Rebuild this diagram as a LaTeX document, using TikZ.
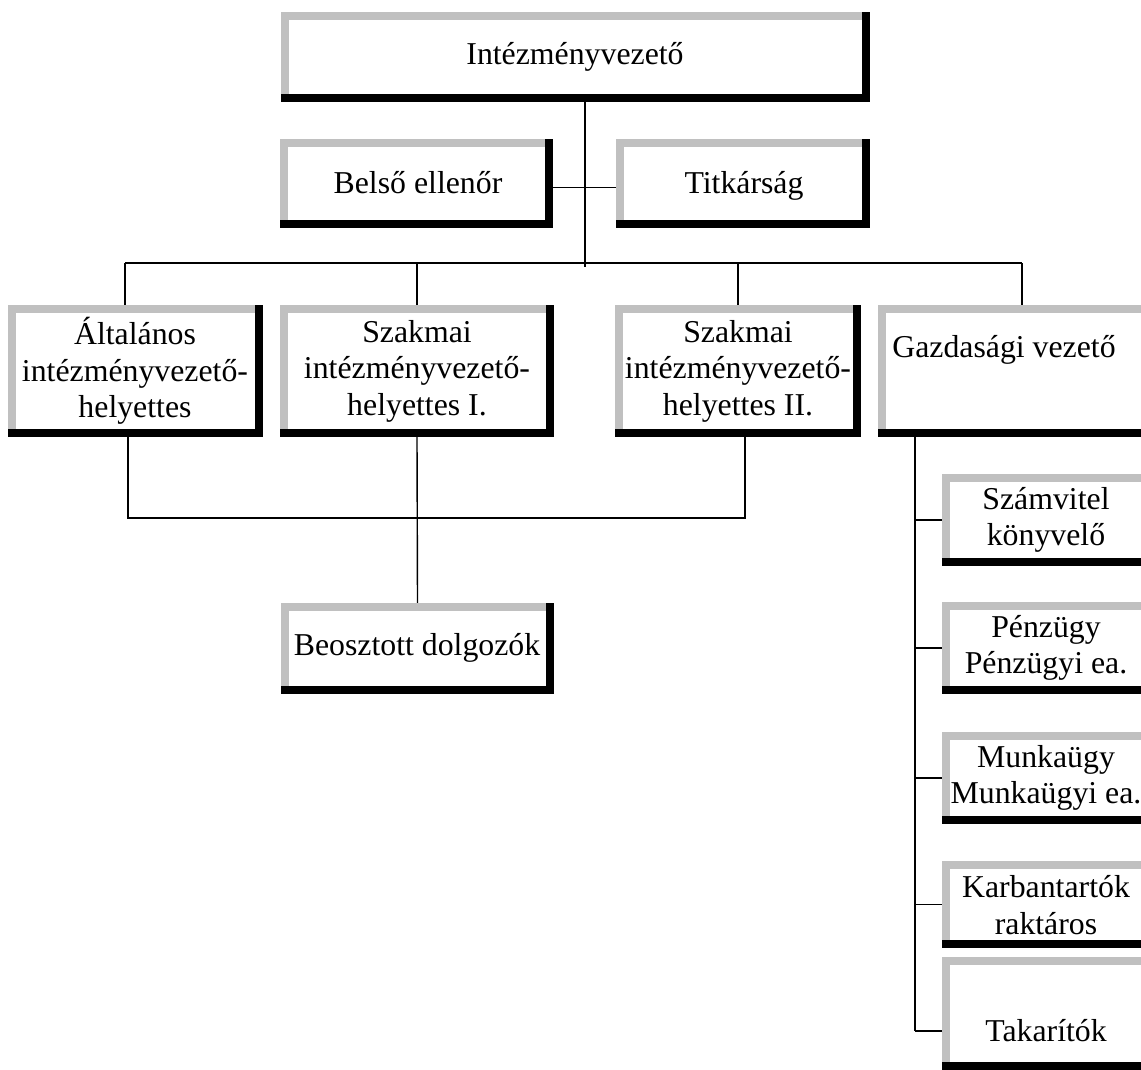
\documentclass[tikz,border=0pt]{standalone}
\usepackage{fontspec}
\setmainfont{Liberation Serif}
\definecolor{silverb}{RGB}{192,192,192}
\tikzset{
  conn/.style={draw=black, line width=1.4pt},
  boxshape/.style={rectangle, inner sep=0pt, draw=none},
  boxtext/.style={inner sep=0pt, align=center, font=\fontsize{31.8}{36.5}\selectfont},
}
\newcommand{\orgbox}[8]{%
  \fill[silverb] (#2,#3) rectangle (#4,{#3+8});
  \fill[silverb] (#2,#3) rectangle ({#2+8},#5);
  \fill[black] (#2,{#5-8}) rectangle (#4,#5);
  \fill[black] ({#4-8},#3) rectangle (#4,#5);
  \node[boxshape, minimum width={(#4-#2)*1pt}, minimum height={(#5-#3)*1pt}] (#1) at ({(#2+#4)/2},{(#3+#5)/2}) {};
  \node[boxtext] (#1-t) at (#6,#7) {#8};
}
\begin{document}
\begin{tikzpicture}[x=1pt,y=-1pt]
\useasboundingbox (0,0) rectangle (1141,1070);
\clip (0,0) rectangle (1141,1070);
% boxes
\orgbox{top}{281}{12}{870}{102}{575}{57}{Intézményvezető}
\orgbox{belso}{280}{139}{553}{228}{418}{183}{Belső ellenőr}
\orgbox{titk}{616}{139}{870}{228}{744}{186}{Titkárság}
\orgbox{b1}{8}{305}{263}{437}{135}{371}{Általános\\intézményvezető-\\helyettes}
\orgbox{b2}{280}{305}{554}{437}{417}{371}{Szakmai\\intézményvezető-\\helyettes I.}
\orgbox{b3}{615}{305}{861}{437}{738}{371}{Szakmai\\intézményvezető-\\helyettes II.}
\orgbox{b4}{878}{305}{1170}{437}{1004}{350}{Gazdasági vezető}
\orgbox{beo}{281}{603}{554}{694}{417}{648}{Beosztott dolgozók}
\orgbox{sz}{942}{474}{1170}{566}{1046}{520}{Számvitel\\könyvelő}
\orgbox{pe}{942}{602}{1170}{694}{1046}{648}{Pénzügy\\Pénzügyi ea.}
\orgbox{mu}{942}{732}{1170}{824}{1046}{778}{Munkaügy\\Munkaügyi ea.}
\orgbox{ka}{942}{861}{1170}{948}{1046}{905}{Karbantartók\\raktáros}
\orgbox{tak}{942}{957}{1170}{1070}{1046}{1031}{Takarítók}
% connectors
\coordinate (trunk) at (585,263);
\coordinate (hbL) at (125,263);
\coordinate (hbR) at (1022,263);
\draw[conn] (top.south -| trunk) -- ([yshift=-4pt]trunk);
\draw[conn] ([yshift=-4pt]belso.east) -- ([yshift=-4pt]titk.west);
\draw[conn] (hbL) -- (hbR);
\draw[conn] (hbL) -- (b1.north -| hbL);
\draw[conn] (hbL -| b2.north) -- (b2.north);
\draw[conn] (hbL -| b3.north) -- (b3.north);
\draw[conn] (hbR) -- (b4.north -| hbR);
\coordinate (lbL) at (128,518);
\coordinate (lbR) at (745,518);
\draw[conn] (b1.south -| lbL) -- (lbL) -- (lbR) -- (b3.south -| lbR);
\draw[conn] (b2.south) -- (beo.north);
\coordinate (rc) at (915,437);
\draw[conn] (b4.south -| rc) -- (rc |- tak-t);
\draw[conn] (rc |- sz.west) -- (sz.west);
\draw[conn] (rc |- pe.west) -- (pe.west);
\draw[conn] (rc |- mu.west) -- (mu.west);
\draw[conn] (rc |- ka.west) -- (ka.west);
\draw[conn] (rc |- tak-t) -- (tak.west |- tak-t);
\end{tikzpicture}
\end{document}
